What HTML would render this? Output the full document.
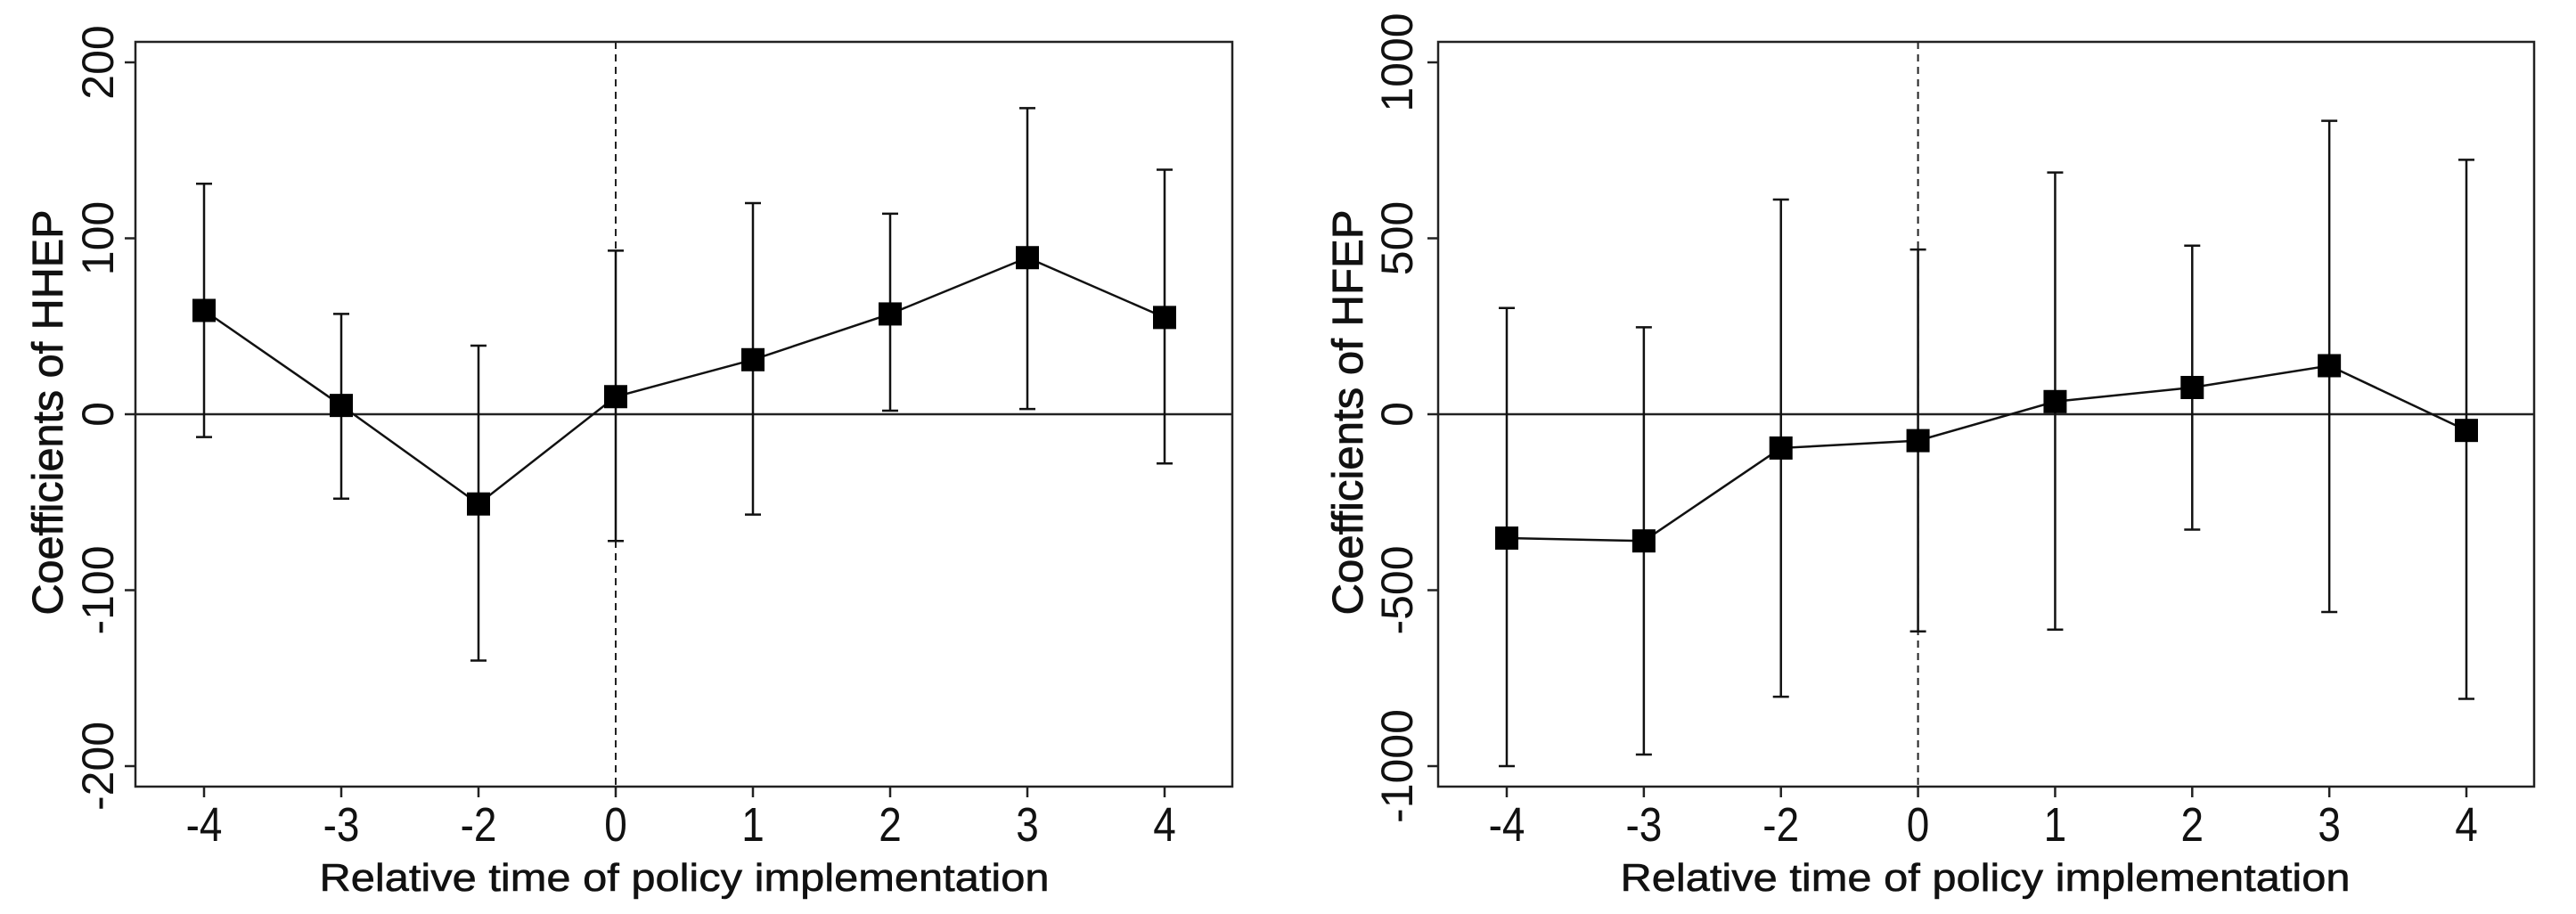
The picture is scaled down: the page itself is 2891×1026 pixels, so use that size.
<!DOCTYPE html>
<html><head><meta charset="utf-8"><style>
html,body{margin:0;padding:0;background:#fff;}
svg{display:block;font-family:"Liberation Sans",Arial,sans-serif;}
</style></head><body>
<svg id="chart" width="2891" height="1026" viewBox="0 0 2891 1026" xmlns="http://www.w3.org/2000/svg"></svg>
<script>
const categories = ["-4","-3","-2","0","1","2","3","4"];
const hhepCoef = [59, 5, -51, 10, 31, 57, 89, 55];
const hhepUpper = [131, 57, 39, 93, 120, 114, 174, 139];
const hhepLower = [-13, -48, -140, -72, -57, 2, 3, -28];
const hhepTicks = [-200, -100, 0, 100, 200];
const hfepCoef = [-352, -360, -96, -75, 36, 76, 138, -46];
const hfepUpper = [302, 247, 610, 468, 687, 479, 834, 723];
const hfepLower = [-1000, -967, -803, -617, -612, -328, -562, -809];
const hfepTicks = [-1000, -500, 0, 500, 1000];
const xTitle = "Relative time of policy implementation";

const NS="http://www.w3.org/2000/svg";
const svg=document.getElementById('chart');
function mk(tag,attrs,parent){const e=document.createElementNS(NS,tag);for(const k in attrs)e.setAttribute(k,attrs[k]);(parent||svg).appendChild(e);return e;}

function panel(cfg){
  const g=mk('g',{});
  
  
  const y=v=>cfg.y0-(v/cfg.yMax)*(cfg.y0-cfg.yTop);
  const x=i=>cfg.xFirst+i*(cfg.xLast-cfg.xFirst)/(categories.length-1);
  const box=mk('rect',{x:cfg.bl,y:47,width:cfg.br-cfg.bl,height:836,fill:'none',stroke:'#222','stroke-width':2.5},g);
  
  
  const zl=mk('line',{x1:cfg.bl,x2:cfg.br,y1:y(0),y2:y(0),stroke:'#222','stroke-width':2.5},g);
  
  
  const zi=categories.indexOf("0");
  const dl=mk('line',{x1:x(zi),x2:x(zi),y1:47,y2:883,stroke:'#222','stroke-width':2,'stroke-dasharray':'8,6'},g);
  
  
  cfg.ticks.forEach(t=>{
    const tl=mk('line',{x1:cfg.bl-12,x2:cfg.bl,y1:y(t),y2:y(t),stroke:'#222','stroke-width':2.5},g);
    
    
    const tx=mk('text',{x:cfg.tickX,y:y(t),transform:`rotate(-90 ${cfg.tickX} ${y(t)})`,'text-anchor':'middle','font-size':50,fill:'#111'},g);
    tx.textContent=String(t);
    
    
  });
  categories.forEach((c,i)=>{
    const tl=mk('line',{x1:x(i),x2:x(i),y1:883,y2:895,stroke:'#222','stroke-width':2.5},g);
    
    
    const tx=mk('text',{x:0,y:0,transform:`translate(${x(i)} 944) scale(0.85 1)`,'text-anchor':'middle','font-size':54,fill:'#111'},g);
    tx.textContent=c;
    
    
  });
  categories.forEach((c,i)=>{
    const eb=mk('path',{d:`M${x(i)},${y(cfg.up[i])}V${y(cfg.lo[i])}M${x(i)-9},${y(cfg.up[i])}H${x(i)+9}M${x(i)-9},${y(cfg.lo[i])}H${x(i)+9}`,stroke:'#111','stroke-width':2.5,fill:'none'},g);
    
    
  });
  const pl=mk('polyline',{points:cfg.coef.map((v,i)=>`${x(i)},${y(v)}`).join(' '),fill:'none',stroke:'#111','stroke-width':2.5},g);
  
  
  cfg.coef.forEach((v,i)=>{
    const m=mk('rect',{x:x(i)-13,y:y(v)-13,width:26,height:26,fill:'#000'},g);
    
    
  });
  const xt=mk('text',{x:cfg.xTitleX,y:1000,'text-anchor':'middle','font-size':44,textLength:819,lengthAdjust:'spacingAndGlyphs',fill:'#111',stroke:'#111','stroke-width':0.6},g);
  xt.textContent=xTitle;
  
  
  const yt=mk('text',{x:cfg.yTitleX,y:463,transform:`rotate(-90 ${cfg.yTitleX} 463)`,'text-anchor':'middle','font-size':48,textLength:455,lengthAdjust:'spacingAndGlyphs',fill:'#111',stroke:'#111','stroke-width':0.8},g);
  yt.textContent=cfg.yTitle;
  
  
}

panel({name:'hhep-panel',bl:152,br:1383,xFirst:229,xLast:1307,y0:465,yTop:70,yMax:200,ticks:hhepTicks,
  coef:hhepCoef,up:hhepUpper,lo:hhepLower,tickX:127,yTitleX:70,xTitleX:768,yTitle:'Coefficients of HHEP'});
panel({name:'hfep-panel',bl:1614,br:2844,xFirst:1691,xLast:2768,y0:465,yTop:70,yMax:1000,ticks:hfepTicks,
  coef:hfepCoef,up:hfepUpper,lo:hfepLower,tickX:1585,yTitleX:1529,xTitleX:2228,yTitle:'Coefficients of HFEP'});
</script>
</body></html>
